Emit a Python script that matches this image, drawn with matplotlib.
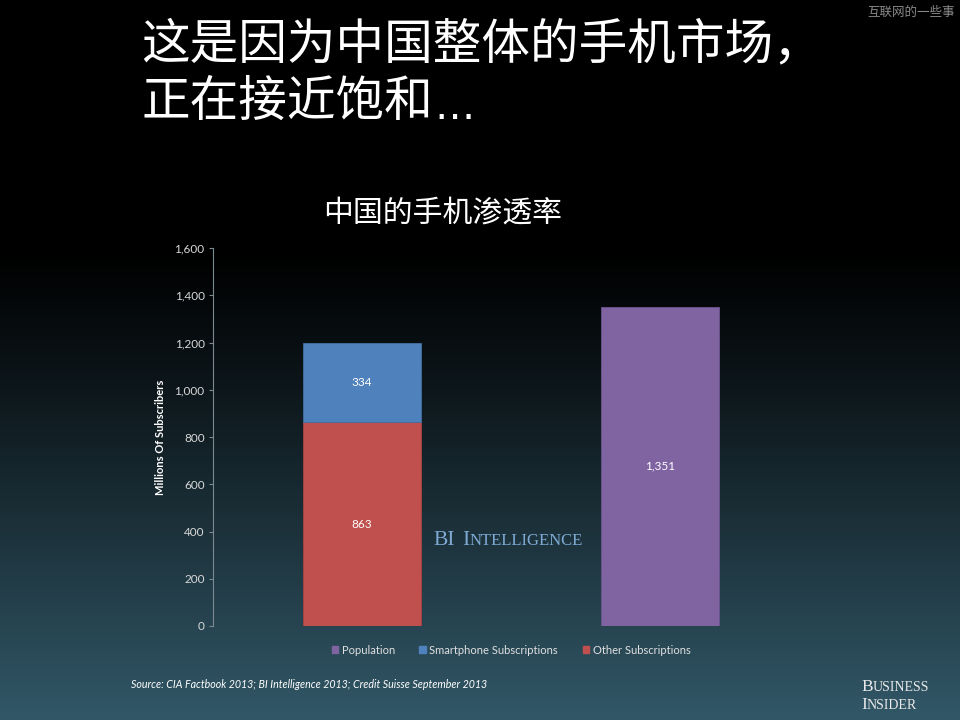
import matplotlib
matplotlib.use("Agg")
import matplotlib.pyplot as plt
from matplotlib.patches import Rectangle
from matplotlib.transforms import offset_copy
import numpy as np

plt.rcParams['font.family'] = ['Lato', 'Noto Sans CJK SC', 'DejaVu Sans']

# data
categories = ['China mobile', 'China population']
other_subs = [863, 0]
smartphone_subs = [334, 0]
population = [0, 1351]
yticks = [0, 200, 400, 600, 800, 1000, 1200, 1400, 1600]
legend_labels = ['Population', 'Smartphone Subscriptions', 'Other Subscriptions']

C_RED = '#c0504d'
C_BLUE = '#4f81bd'
C_PURPLE = '#8064a2'

fig = plt.figure(figsize=(9.6, 7.2), dpi=100)
renderer = fig.canvas.get_renderer()

# background gradient: black top, dark teal at bottom
bg = fig.add_axes([0, 0, 1, 1], zorder=-10)
bg.axis('off')
h = 720
t = np.clip((np.arange(h) - 250) / (720 - 250), 0, 1)
top = np.array([0, 0, 0])
bot = np.array([50, 88, 104]) / 255
grad = top[None, :] + t[:, None] ** 1.1 * (bot - top)[None, :]
bg.imshow(grad[:, None, :], aspect='auto', extent=[0, 1, 0, 1], origin='upper')
bg.set_xlim(0, 1)
bg.set_ylim(0, 1)


def small_caps(x, y, words, big, small, color, gap=0.3):
    # fake small caps: capitals big, rest smaller, chained left to right
    trans = fig.transFigure
    xoff = 0
    for word in words:
        parts = []
        for ch in word:
            size = big if ch.isupper() else small
            if parts and parts[-1][1] == size:
                parts[-1][0] += ch.upper()
            else:
                parts.append([ch.upper(), size])
        for part, size in parts:
            tt = fig.text(x, y, part, color=color, fontsize=size, family='Liberation Serif',
                          va='baseline', ha='left',
                          transform=offset_copy(trans, fig=fig, x=xoff, y=0, units='dots'))
            xoff += tt.get_window_extent(renderer).width
        xoff += big * gap * 100 / 72


# headings
cjk = ['Noto Sans CJK SC', 'DejaVu Sans']
fig.text(141 / 960, 1 - 45 / 720, '这是因为中国整体的手机市场，', color='white',
         fontsize=35, fontweight='medium', family=cjk, va='center', ha='left')
line2 = fig.text(141 / 960, 1 - 102 / 720, '正在接近饱和', color='white',
                 fontsize=35, fontweight='medium', family=cjk, va='center', ha='left')
w2 = line2.get_window_extent(renderer).width
fig.text(141 / 960, 1 - 102 / 720, '…', color='white', fontsize=29,
         family='DejaVu Sans', va='baseline', ha='left',
         transform=offset_copy(fig.transFigure, fig=fig, x=w2 + 2, y=-17, units='dots'))
fig.text(443 / 960, 1 - 213 / 720, '中国的手机渗透率', color='white',
         fontsize=21.5, family=cjk, va='center', ha='center')
fig.text(955 / 960, 1 - 12 / 720, '互联网的一些事', color='#8a8a8a',
         fontsize=9, family=cjk, va='center', ha='right')

# chart
ax = fig.add_axes([213 / 960, 94 / 720, 596 / 960, 378 / 720])
ax.patch.set_alpha(0)
x = np.arange(len(categories))
w = 0.396
ax.bar(x, other_subs, w, color=C_RED, edgecolor='#a94442', linewidth=0.6)
ax.bar(x, smartphone_subs, w, bottom=other_subs, color=C_BLUE, edgecolor='#44709f', linewidth=0.6)
ax.bar(x, population, w, color=C_PURPLE, edgecolor='#6c5590', linewidth=0.6)

ax.text(x[0], other_subs[0] / 2, f'{other_subs[0]:,}', color='white', fontsize=8.5, ha='center', va='center')
ax.text(x[0], other_subs[0] + smartphone_subs[0] / 2, f'{smartphone_subs[0]:,}', color='white',
        fontsize=8.5, ha='center', va='center')
ax.text(x[1], population[1] / 2, f'{population[1]:,}', color='white', fontsize=8.5, ha='center', va='center')

ax.set_xlim(-0.5, 1.5)
ax.set_ylim(0, 1600)
ax.set_yticks(yticks)
ax.set_yticklabels([f'{v:,}' for v in yticks], color='#d8d8d8', fontsize=8.5)
ax.set_xticks([])
for s in ['top', 'right', 'bottom']:
    ax.spines[s].set_visible(False)
ax.spines['left'].set_color('#7a8a90')
ax.spines['left'].set_linewidth(0.8)
ax.tick_params(axis='y', colors='#7a8a90', length=3, width=0.8, labelcolor='#d8d8d8', pad=3)
ax.set_ylabel('Millions Of Subscribers', color='white', fontsize=8, fontweight='bold', labelpad=6)

# legend
handles = [Rectangle((0, 0), 1, 1, color=c) for c in [C_PURPLE, C_BLUE, C_RED]]
leg = fig.legend(handles, legend_labels, loc='center', bbox_to_anchor=(511 / 960, 1 - 650 / 720),
                 ncol=3, frameon=False, fontsize=8, handlelength=0.6, handleheight=0.6,
                 handletextpad=0.3, columnspacing=2.2)
for txt in leg.get_texts():
    txt.set_color('#e0e0e0')

# watermark in chart
small_caps(433 / 960, 1 - 545 / 720, ['BI', 'Intelligence'], 15.5, 12, '#7eaad4', gap=0.35)

# source
fig.text(131 / 960, 1 - 685 / 720, 'Source: CIA Factbook 2013; BI Intelligence 2013; Credit Suisse September 2013',
         color='white', fontsize=7.7, style='italic', va='center', ha='left')

# Business Insider logo
small_caps(861 / 960, 1 - 691 / 720, ['Business'], 12.5, 10, '#e8e8e8')
small_caps(861 / 960, 1 - 709 / 720, ['Insider'], 12.5, 10, '#e8e8e8')

fig.savefig('out.png', dpi=100, facecolor='black')
